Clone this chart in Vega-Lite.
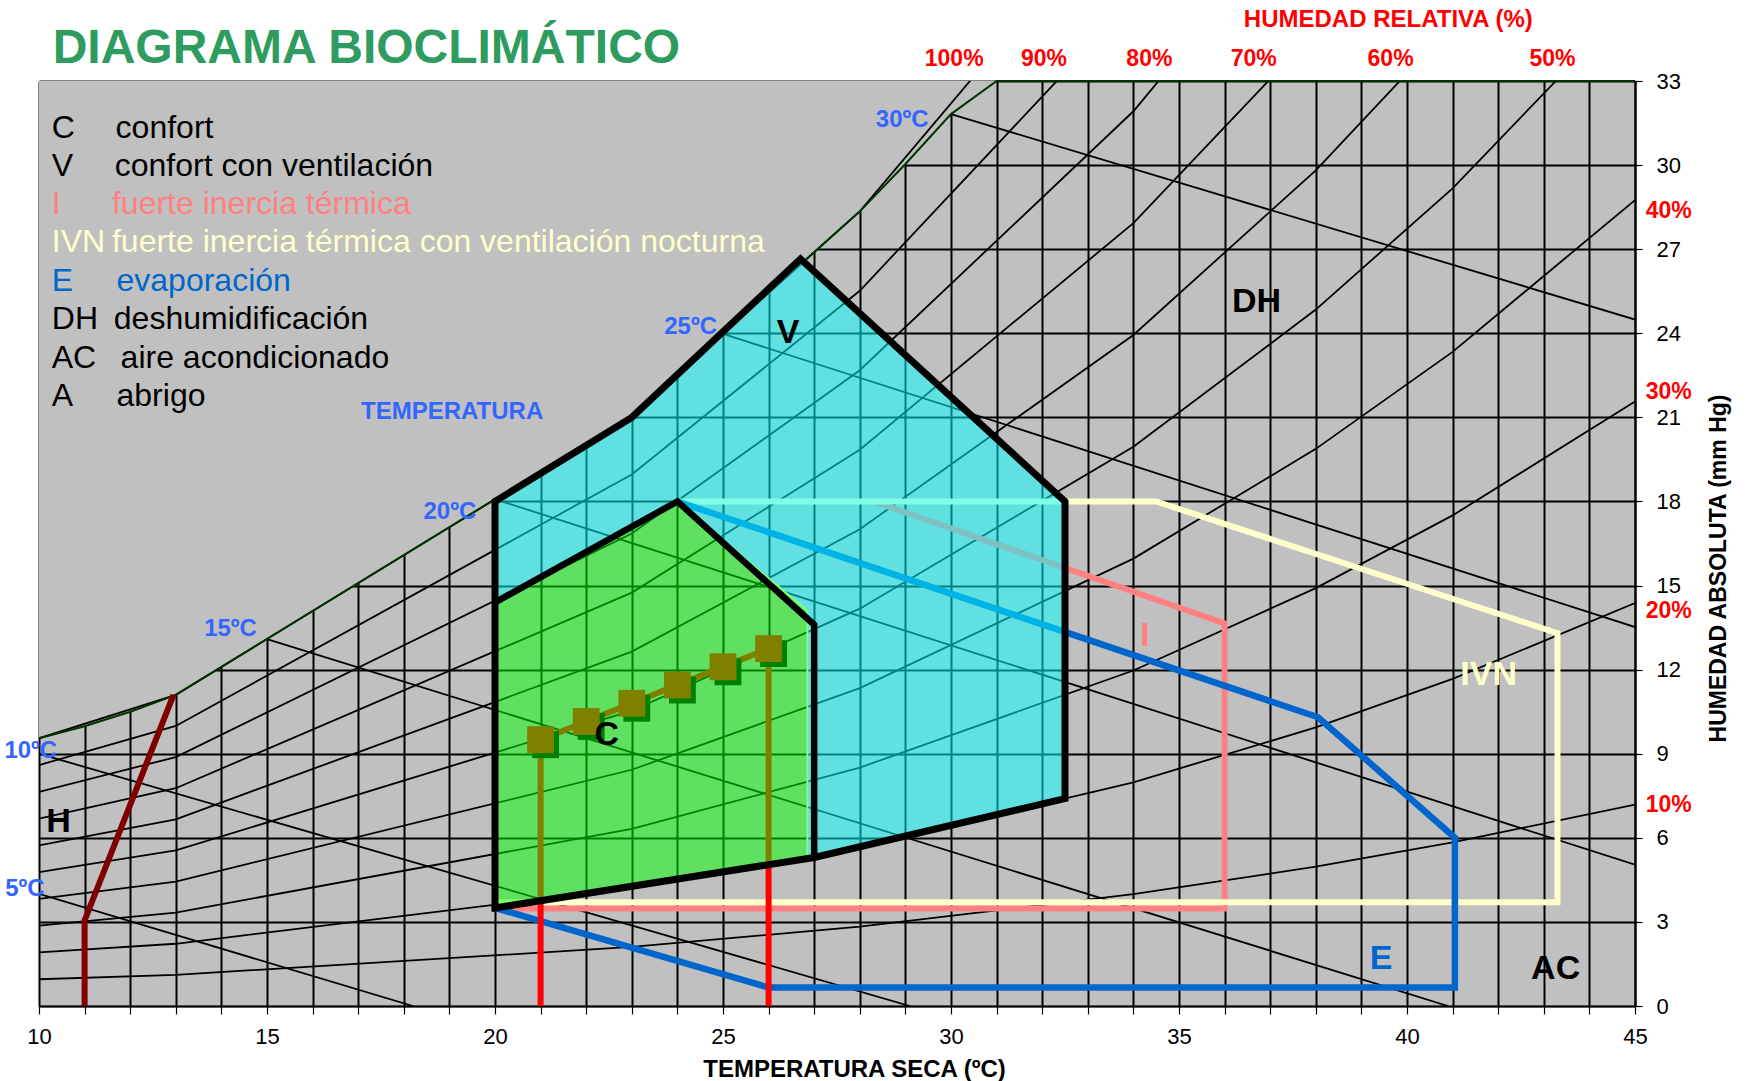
{
  "$schema": "https://vega.github.io/schema/vega-lite/v6.json",
  "width": 1596,
  "height": 925,
  "autosize": {"type": "none"},
  "padding": {"left": 39, "top": 81, "right": 113, "bottom": 75},
  "background": "#FFFFFF",
  "view": {"fill": "#C0C0C0", "stroke": null},
  "config": {"font": "Liberation Sans"},
  "datasets": {
    "sat": [{"x":10,"y":9.55},{"x":11,"y":9.98},{"x":12,"y":10.5},{"x":13,"y":11.1},{"x":23,"y":21.07},{"x":28,"y":28.35},{"x":29,"y":30.04},{"x":30,"y":31.82},{"x":31,"y":33},{"x":45,"y":33}],
    "rh": [
      {"s":10,"x":10,"y":0.955},{"s":10,"x":13,"y":1.11},{"s":10,"x":23,"y":2.107},{"s":10,"x":28,"y":2.835},{"s":10,"x":34,"y":3.99},{"s":10,"x":38,"y":4.969},{"s":10,"x":41,"y":5.834},{"s":10,"x":45,"y":7.188},
      {"s":20,"x":10,"y":1.91},{"s":20,"x":13,"y":2.22},{"s":20,"x":23,"y":4.214},{"s":20,"x":28,"y":5.67},{"s":20,"x":34,"y":7.98},{"s":20,"x":38,"y":9.938},{"s":20,"x":41,"y":11.668},{"s":20,"x":45,"y":14.376},
      {"s":30,"x":10,"y":2.865},{"s":30,"x":13,"y":3.33},{"s":30,"x":23,"y":6.321},{"s":30,"x":28,"y":8.505},{"s":30,"x":34,"y":11.97},{"s":30,"x":38,"y":14.907},{"s":30,"x":41,"y":17.502},{"s":30,"x":45,"y":21.564},
      {"s":40,"x":10,"y":3.82},{"s":40,"x":13,"y":4.44},{"s":40,"x":23,"y":8.428},{"s":40,"x":28,"y":11.34},{"s":40,"x":34,"y":15.96},{"s":40,"x":38,"y":19.876},{"s":40,"x":41,"y":23.336},{"s":40,"x":45,"y":28.752},
      {"s":50,"x":10,"y":4.775},{"s":50,"x":13,"y":5.55},{"s":50,"x":23,"y":10.535},{"s":50,"x":28,"y":14.175},{"s":50,"x":34,"y":19.95},{"s":50,"x":38,"y":24.845},{"s":50,"x":41,"y":29.17},{"s":50,"x":45,"y":35.94},
      {"s":60,"x":10,"y":5.73},{"s":60,"x":13,"y":6.66},{"s":60,"x":23,"y":12.642},{"s":60,"x":28,"y":17.01},{"s":60,"x":34,"y":23.94},{"s":60,"x":38,"y":29.814},{"s":60,"x":41,"y":35.004},{"s":60,"x":45,"y":43.128},
      {"s":70,"x":10,"y":6.685},{"s":70,"x":13,"y":7.77},{"s":70,"x":23,"y":14.749},{"s":70,"x":28,"y":19.845},{"s":70,"x":34,"y":27.93},{"s":70,"x":38,"y":34.783},{"s":70,"x":41,"y":40.838},{"s":70,"x":45,"y":50.316},
      {"s":80,"x":10,"y":7.64},{"s":80,"x":13,"y":8.88},{"s":80,"x":23,"y":16.856},{"s":80,"x":28,"y":22.68},{"s":80,"x":34,"y":31.92},{"s":80,"x":38,"y":39.752},{"s":80,"x":41,"y":46.672},{"s":80,"x":45,"y":57.504},
      {"s":90,"x":10,"y":8.595},{"s":90,"x":13,"y":9.99},{"s":90,"x":23,"y":18.963},{"s":90,"x":28,"y":25.515},{"s":90,"x":34,"y":35.91},{"s":90,"x":38,"y":44.721},{"s":90,"x":41,"y":52.506},{"s":90,"x":45,"y":64.692},
      {"s":100,"x":10,"y":9.55},{"s":100,"x":13,"y":11.1},{"s":100,"x":23,"y":21.07},{"s":100,"x":28,"y":28.35},{"s":100,"x":34,"y":39.9},{"s":100,"x":38,"y":49.69},{"s":100,"x":41,"y":58.34},{"s":100,"x":45,"y":71.88}
    ],
    "wb": [
      {"s":5,"x":10,"y":4.0},{"s":5,"x":18.2,"y":0},
      {"s":10,"x":10,"y":9.0},{"s":10,"x":29.1,"y":0},
      {"s":15,"x":15,"y":13.09},{"s":15,"x":40.9,"y":0},
      {"s":20,"x":20,"y":18.08},{"s":20,"x":45,"y":5.04},
      {"s":25,"x":25,"y":23.98},{"s":25,"x":45,"y":13.52},
      {"s":30,"x":30,"y":31.82},{"s":30,"x":45,"y":24.49}
    ],
    "hl": [{"i":1,"x":11,"y":0},{"i":2,"x":11,"y":3.05},{"i":3,"x":12.95,"y":11.1}],
    "ivn": [{"i":1,"x":24,"y":18},{"i":2,"x":34.5,"y":18},{"i":3,"x":43.3,"y":13.3},{"i":4,"x":43.3,"y":3.7},{"i":5,"x":20,"y":3.7}],
    "inercia": [{"i":1,"x":28.3,"y":18},{"i":2,"x":36,"y":13.65},{"i":3,"x":36,"y":3.48},{"i":4,"x":20,"y":3.48}],
    "evap": [{"i":1,"x":24,"y":18},{"i":2,"x":38.05,"y":10.3},{"i":3,"x":41.05,"y":6.0},{"i":4,"x":41.05,"y":0.66},{"i":5,"x":26,"y":0.66},{"i":6,"x":20,"y":3.5}],
    "redv": [{"x":21,"y":0,"y2":9.5},{"x":26,"y":0,"y2":12.75}],
    "red": [{"x":21,"y":9.5},{"x":22,"y":10.15},{"x":23,"y":10.8},{"x":24,"y":11.45},{"x":25,"y":12.1},{"x":26,"y":12.75}],
    "vfill": [{"i":1,"x":20,"y":18},{"i":2,"x":23,"y":21},{"i":3,"x":26.7,"y":26.65},{"i":4,"x":32.5,"y":18},{"i":5,"x":32.5,"y":7.4},{"i":6,"x":27,"y":5.3},{"i":7,"x":26.85,"y":5.26},{"i":8,"x":26.85,"y":14.1},{"i":9,"x":24,"y":18},{"i":10,"x":20,"y":14.4}],
    "cfill": [{"i":1,"x":20,"y":3.5},{"i":2,"x":20,"y":14.4},{"i":3,"x":24,"y":18},{"i":4,"x":26.85,"y":14.1},{"i":5,"x":26.85,"y":5.26}],
    "vline": [{"i":1,"x":20,"y":3.5},{"i":2,"x":20,"y":18},{"i":3,"x":23,"y":21},{"i":4,"x":26.7,"y":26.65},{"i":5,"x":32.5,"y":18},{"i":6,"x":32.5,"y":7.4},{"i":7,"x":27,"y":5.3},{"i":8,"x":20,"y":3.5}],
    "cline": [{"i":1,"x":20,"y":14.4},{"i":2,"x":24,"y":18},{"i":3,"x":27,"y":13.6},{"i":4,"x":27,"y":5.3}],
    "zonelab": [
      {"zone":"V","t":"V","x":26.43,"y":24.0},
      {"zone":"C","t":"C","x":22.45,"y":9.66},
      {"zone":"DH","t":"DH","x":36.7,"y":25.1},
      {"zone":"AC","t":"AC","x":43.26,"y":1.31},
      {"zone":"H","t":"H","x":10.43,"y":6.57},
      {"zone":"I","t":"I","x":34.25,"y":13.21},
      {"zone":"IVN","t":"IVN","x":41.79,"y":11.81},
      {"zone":"E","t":"E","x":39.43,"y":1.69}
    ],
    "templab": [
      {"t":"5ºC","x":9.69,"y":4.18},
      {"t":"10ºC","x":9.82,"y":9.1},
      {"t":"15ºC","x":14.2,"y":13.45},
      {"t":"20ºC","x":19.01,"y":17.64},
      {"t":"25ºC","x":24.29,"y":24.24},
      {"t":"30ºC","x":28.93,"y":31.6},
      {"t":"TEMPERATURA","x":19.06,"y":21.2}
    ],
    "rhlab": [
      {"t":"100%","x":30.07,"y":33.8},
      {"t":"90%","x":32.04,"y":33.8},
      {"t":"80%","x":34.35,"y":33.8},
      {"t":"70%","x":36.64,"y":33.8},
      {"t":"60%","x":39.64,"y":33.8},
      {"t":"50%","x":43.19,"y":33.8},
      {"t":"40%","x":45.74,"y":28.35},
      {"t":"30%","x":45.74,"y":21.92},
      {"t":"20%","x":45.74,"y":14.1},
      {"t":"10%","x":45.74,"y":7.17}
    ],
    "rhtitle": [{"t":"HUMEDAD RELATIVA (%)","x":39.59,"y":35.17}],
    "legcode": [
      {"zone":"C","t":"C","x":10.28,"y":31.34},
      {"zone":"V","t":"V","x":10.28,"y":29.97},
      {"zone":"I","t":"I","x":10.28,"y":28.6},
      {"zone":"IVN","t":"IVN","x":10.28,"y":27.24},
      {"zone":"E","t":"E","x":10.28,"y":25.87},
      {"zone":"DH","t":"DH","x":10.28,"y":24.5},
      {"zone":"AC","t":"AC","x":10.28,"y":23.13},
      {"zone":"A","t":"A","x":10.28,"y":21.76}
    ],
    "legdesc": [
      {"zone":"C","t":"confort","x":11.68,"y":31.34},
      {"zone":"V","t":"confort con ventilación","x":11.66,"y":29.97},
      {"zone":"I","t":"fuerte inercia térmica","x":11.6,"y":28.6},
      {"zone":"IVN","t":"fuerte inercia térmica con ventilación nocturna","x":11.6,"y":27.24},
      {"zone":"E","t":"evaporación","x":11.7,"y":25.87},
      {"zone":"DH","t":"deshumidificación","x":11.64,"y":24.5},
      {"zone":"AC","t":"aire acondicionado","x":11.79,"y":23.13},
      {"zone":"A","t":"abrigo","x":11.7,"y":21.76}
    ],
    "titulo": [{"t":"DIAGRAMA BIOCLIMÁTICO","x":10.3,"y":34.14}]
  },
  "encoding": {
    "x": {
      "field": "x", "type": "quantitative",
      "scale": {"domain": [10, 45], "nice": false, "zero": false},
      "axis": {
        "title": "TEMPERATURA SECA (ºC)",
        "values": [10,11,12,13,14,15,16,17,18,19,20,21,22,23,24,25,26,27,28,29,30,31,32,33,34,35,36,37,38,39,40,41,42,43,44,45],
        "labelExpr": "datum.value % 5 === 0 ? datum.label : ''",
        "labelFlush": false, "labelOverlap": false,
        "grid": true, "gridColor": "#000000", "gridWidth": 2, "gridOpacity": 1,
        "domainColor": "#000000", "domainWidth": 1.5,
        "tickColor": "#000000", "tickSize": 8, "tickWidth": 1.2,
        "labelFont": "Liberation Sans", "labelFontSize": 22, "labelColor": "#000000", "labelPadding": 12,
        "titleFont": "Liberation Sans", "titleFontSize": 24, "titleFontWeight": "bold", "titleColor": "#000000", "titlePadding": 10,
        "titleX": 815
      }
    },
    "y": {
      "field": "y", "type": "quantitative",
      "scale": {"domain": [0, 33], "nice": false, "zero": false},
      "axis": {
        "orient": "right",
        "title": "HUMEDAD ABSOLUTA (mm Hg)",
        "values": [0,3,6,9,12,15,18,21,24,27,30,33],
        "labelFlush": false, "labelOverlap": false,
        "grid": true, "gridColor": "#000000", "gridWidth": 2, "gridOpacity": 1,
        "domainColor": "#000000", "domainWidth": 2,
        "tickColor": "#000000", "tickSize": 7, "tickWidth": 1.2,
        "labelFont": "Liberation Sans", "labelFontSize": 22, "labelColor": "#000000", "labelPadding": 14,
        "titleFont": "Liberation Sans", "titleFontSize": 23, "titleFontWeight": "bold", "titleColor": "#000000",
        "titleAngle": 270, "titleBaseline": "top", "titlePadding": 27, "titleY": 487
      }
    }
  },
  "layer": [
    {"data": {"name": "sat"}, "mark": {"type": "area", "color": "#C0C0C0", "opacity": 1}, "encoding": {"y2": {"datum": 33}}},
    {"data": {"name": "rh"}, "mark": {"type": "line", "color": "#000000", "strokeWidth": 1.8, "clip": true}, "encoding": {"detail": {"field": "s", "type": "nominal"}}},
    {"data": {"name": "wb"}, "mark": {"type": "line", "color": "#000000", "strokeWidth": 1.8, "clip": true}, "encoding": {"detail": {"field": "s", "type": "nominal"}}},
    {"data": {"name": "sat"}, "mark": {"type": "line", "color": "#003300", "strokeWidth": 2}, "encoding": {}},
    {"data": {"name": "hl"}, "mark": {"type": "line", "color": "#800000", "strokeWidth": 6}, "encoding": {"order": {"field": "i", "type": "quantitative"}}},
    {"data": {"name": "inercia"}, "mark": {"type": "line", "color": "#FF8080", "strokeWidth": 6}, "encoding": {"order": {"field": "i", "type": "quantitative"}}},
    {"data": {"name": "ivn"}, "mark": {"type": "line", "color": "#FFFFCC", "strokeWidth": 6}, "encoding": {"order": {"field": "i", "type": "quantitative"}}},
    {"data": {"name": "evap"}, "mark": {"type": "line", "color": "#0066CC", "strokeWidth": 6.5}, "encoding": {"order": {"field": "i", "type": "quantitative"}}},
    {"data": {"name": "redv"}, "mark": {"type": "rule", "color": "#FF0000", "strokeWidth": 6}, "encoding": {"y2": {"field": "y2"}}},
    {"data": {"name": "red"}, "mark": {"type": "line", "color": "#FF0000", "strokeWidth": 6}, "encoding": {}},
    {"data": {"name": "red"}, "mark": {"type": "point", "shape": "square", "filled": true, "size": 720, "color": "#000000", "opacity": 1, "xOffset": 5, "yOffset": 5}, "encoding": {}},
    {"data": {"name": "red"}, "mark": {"type": "point", "shape": "square", "filled": true, "size": 720, "color": "#FF0000", "opacity": 1}, "encoding": {}},
    {"data": {"name": "vfill"}, "mark": {"type": "line", "fill": "#00FFFF", "fillOpacity": 0.5, "stroke": "#00FFFF", "strokeOpacity": 0, "strokeWidth": 0}, "encoding": {"order": {"field": "i", "type": "quantitative"}}},
    {"data": {"name": "cfill"}, "mark": {"type": "line", "fill": "#00FF00", "fillOpacity": 0.5, "stroke": "#7FFF7F", "strokeWidth": 2}, "encoding": {"order": {"field": "i", "type": "quantitative"}}},
    {"data": {"name": "vline"}, "mark": {"type": "line", "color": "#000000", "strokeWidth": 7, "strokeJoin": "miter", "strokeCap": "square"}, "encoding": {"order": {"field": "i", "type": "quantitative"}}},
    {"data": {"name": "cline"}, "mark": {"type": "line", "color": "#000000", "strokeWidth": 6.5, "strokeJoin": "miter"}, "encoding": {"order": {"field": "i", "type": "quantitative"}}},
    {"data": {"name": "zonelab"}, "mark": {"type": "text", "font": "Liberation Sans", "fontWeight": "bold", "fontSize": 34, "align": "center", "baseline": "middle"},
     "encoding": {"text": {"field": "t"}, "color": {"field": "zone", "type": "nominal", "scale": {"domain": ["C","V","I","IVN","E","DH","AC","A","H"], "range": ["#000000","#000000","#FF8080","#FFFFCC","#0066CC","#000000","#000000","#000000","#000000"]}, "legend": null}}},
    {"data": {"name": "templab"}, "mark": {"type": "text", "font": "Liberation Sans", "fontWeight": "bold", "fontSize": 24, "align": "center", "baseline": "middle", "color": "#3366FF"}, "encoding": {"text": {"field": "t"}}},
    {"data": {"name": "rhlab"}, "mark": {"type": "text", "font": "Liberation Sans", "fontWeight": "bold", "fontSize": 23, "align": "center", "baseline": "middle", "color": "#FF0000"}, "encoding": {"text": {"field": "t"}}},
    {"data": {"name": "rhtitle"}, "mark": {"type": "text", "font": "Liberation Sans", "fontWeight": "bold", "fontSize": 24, "align": "center", "baseline": "middle", "color": "#FF0000"}, "encoding": {"text": {"field": "t"}}},
    {"data": {"name": "legcode"}, "mark": {"type": "text", "font": "Liberation Sans", "fontSize": 32, "align": "left", "baseline": "middle"},
     "encoding": {"text": {"field": "t"}, "color": {"field": "zone", "type": "nominal", "scale": {"domain": ["C","V","I","IVN","E","DH","AC","A","H"], "range": ["#000000","#000000","#FF8080","#FFFFCC","#0066CC","#000000","#000000","#000000","#000000"]}, "legend": null}}},
    {"data": {"name": "legdesc"}, "mark": {"type": "text", "font": "Liberation Sans", "fontSize": 32, "align": "left", "baseline": "middle"},
     "encoding": {"text": {"field": "t"}, "color": {"field": "zone", "type": "nominal", "scale": {"domain": ["C","V","I","IVN","E","DH","AC","A","H"], "range": ["#000000","#000000","#FF8080","#FFFFCC","#0066CC","#000000","#000000","#000000","#000000"]}, "legend": null}}},
    {"data": {"name": "titulo"}, "mark": {"type": "text", "font": "Liberation Sans", "fontWeight": "bold", "fontSize": 48, "align": "left", "baseline": "middle", "color": "#2E9B5F"}, "encoding": {"text": {"field": "t"}}}
  ]
}
